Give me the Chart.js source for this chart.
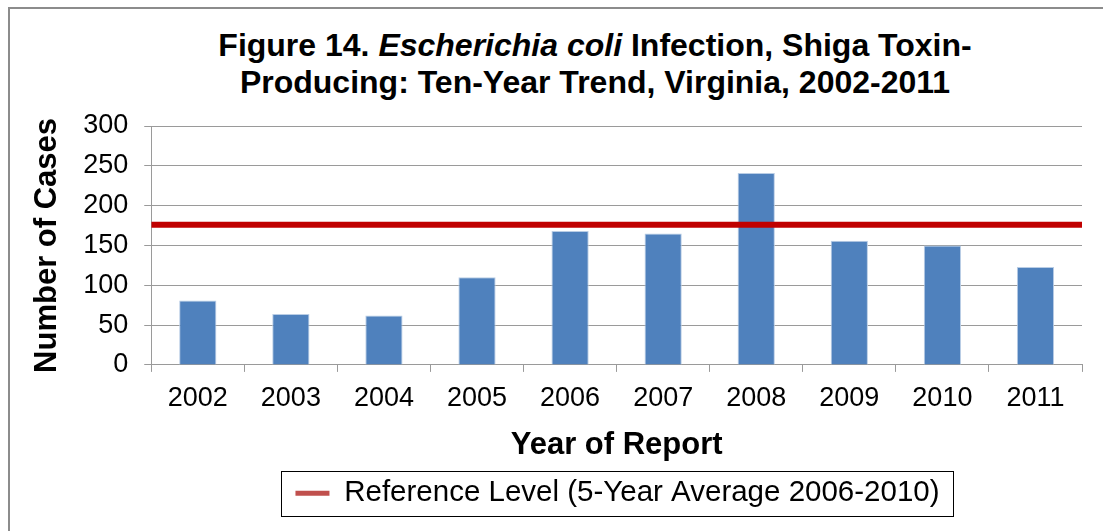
<!DOCTYPE html>
<html>
<head>
<meta charset="utf-8">
<script src="https://cdn.jsdelivr.net/npm/chart.js@4"></script>
<style>
  html, body { margin: 0; padding: 0; background: #fff; overflow: hidden; }
  #wrap { position: relative; width: 1103px; height: 531px; }
  #frame { position: absolute; left: 8px; top: 7px; width: 1200px; height: 600px; border: 2px solid #8c8c8c; }
  #title { position: absolute; left: 0; top: 27px; width: 1190px; text-align: center;
           font: bold 32px "Liberation Sans", Arial, sans-serif; line-height: 37px; color: #000; }
  canvas { position: absolute; left: 0; top: 0; }
</style>
</head>
<body>
<div id="wrap">
  <div id="frame"></div>
  <div id="title">Figure 14. <i>Escherichia coli</i> Infection, Shiga Toxin-<br>Producing: Ten-Year Trend, Virginia, 2002-2011</div>
  <canvas id="chart" width="1103" height="531"></canvas>
</div>
<script>
// data
const years = ['2002', '2003', '2004', '2005', '2006', '2007', '2008', '2009', '2010', '2011'];
const cases = [81, 64, 62, 110, 168, 165, 241, 156, 150, 123];
const refLevel = 176;
const refLabel = 'Reference Level (5-Year Average 2006-2010)';
const yTicks = [0, 50, 100, 150, 200, 250, 300];

const font = 'Liberation Sans, Arial, sans-serif';

// legend sits right of centre in the original, and has a box round it
const legendBox = {
  id: 'legendBox',
  afterLayout(chart) {
    chart.legend.left += 64;
    chart.legend.right += 64;
  },
  afterDraw(chart) {
    const hb = chart.legend.legendHitBoxes[0];
    if (!hb) return;
    const ctx = chart.ctx;
    const cy = hb.top + hb.height / 2;
    ctx.save();
    ctx.strokeStyle = '#000';
    ctx.lineWidth = 1;
    ctx.strokeRect(Math.round(hb.left - 14) + 0.5, Math.round(cy - 22) + 0.5, Math.round(hb.width + 28), 45);
    ctx.restore();
  }
};

const ctx = document.getElementById('chart').getContext('2d');
const chart = new Chart(ctx, {
  type: 'bar',
  data: {
    labels: years,
    datasets: [
      {
        type: 'line',
        label: refLabel,
        data: [{ x: 0, y: refLevel }, { x: 1, y: refLevel }],
        xAxisID: 'x2',
        borderColor: '#C00000',
        borderWidth: 6,
        pointRadius: 0,
        order: 0
      },
      {
        type: 'bar',
        label: 'Cases',
        data: cases,
        backgroundColor: '#4F81BD',
        borderColor: '#B9CDE5',
        borderWidth: 1,
        grouped: false,
        barPercentage: 0.4,
        categoryPercentage: 1,
        order: 1
      }
    ]
  },
  options: {
    responsive: false,
    animation: false,
    devicePixelRatio: 1,
    layout: { padding: { top: 126, left: 25, right: 21, bottom: 13 } },
    plugins: {
      title: { display: false },
      tooltip: { enabled: false },
      legend: {
        position: 'bottom',
        labels: {
          color: '#000',
          font: { family: font, size: 29.5 },
          boxWidth: 34,
          boxHeight: 5,
          padding: 10,
          generateLabels: (chart) => [{
            text: chart.data.datasets[0].label,
            fillStyle: '#C0504D',
            strokeStyle: '#C0504D',
            lineWidth: 0,
            datasetIndex: 0
          }]
        }
      }
    },
    scales: {
      x: {
        type: 'category',
        offset: true,
        grid: { offset: true, drawOnChartArea: false, drawTicks: true, tickLength: 7, color: '#9a9a9a' },
        border: { color: '#9a9a9a' },
        ticks: { color: '#000', font: { family: font, size: 27 }, padding: 10, maxRotation: 0 },
        title: { display: true, text: 'Year of Report', color: '#000',
                 font: { family: font, size: 31, weight: 'bold' }, padding: { top: 3, bottom: 4 } }
      },
      x2: { type: 'linear', min: 0, max: 1, offset: false, display: false },
      y: {
        min: 0,
        max: 300,
        afterBuildTicks: (axis) => { axis.ticks = yTicks.map(v => ({ value: v })); },
        grid: { color: '#9a9a9a', tickLength: 7 },
        border: { color: '#9a9a9a' },
        ticks: { color: '#000', font: { family: font, size: 27 }, padding: 16 },
        title: { display: true, text: 'Number of Cases', color: '#000',
                 font: { family: font, size: 31, weight: 'bold' }, padding: { top: 4, bottom: 1 } }
      }
    }
  },
  plugins: [legendBox]
});
</script>
</body>
</html>
